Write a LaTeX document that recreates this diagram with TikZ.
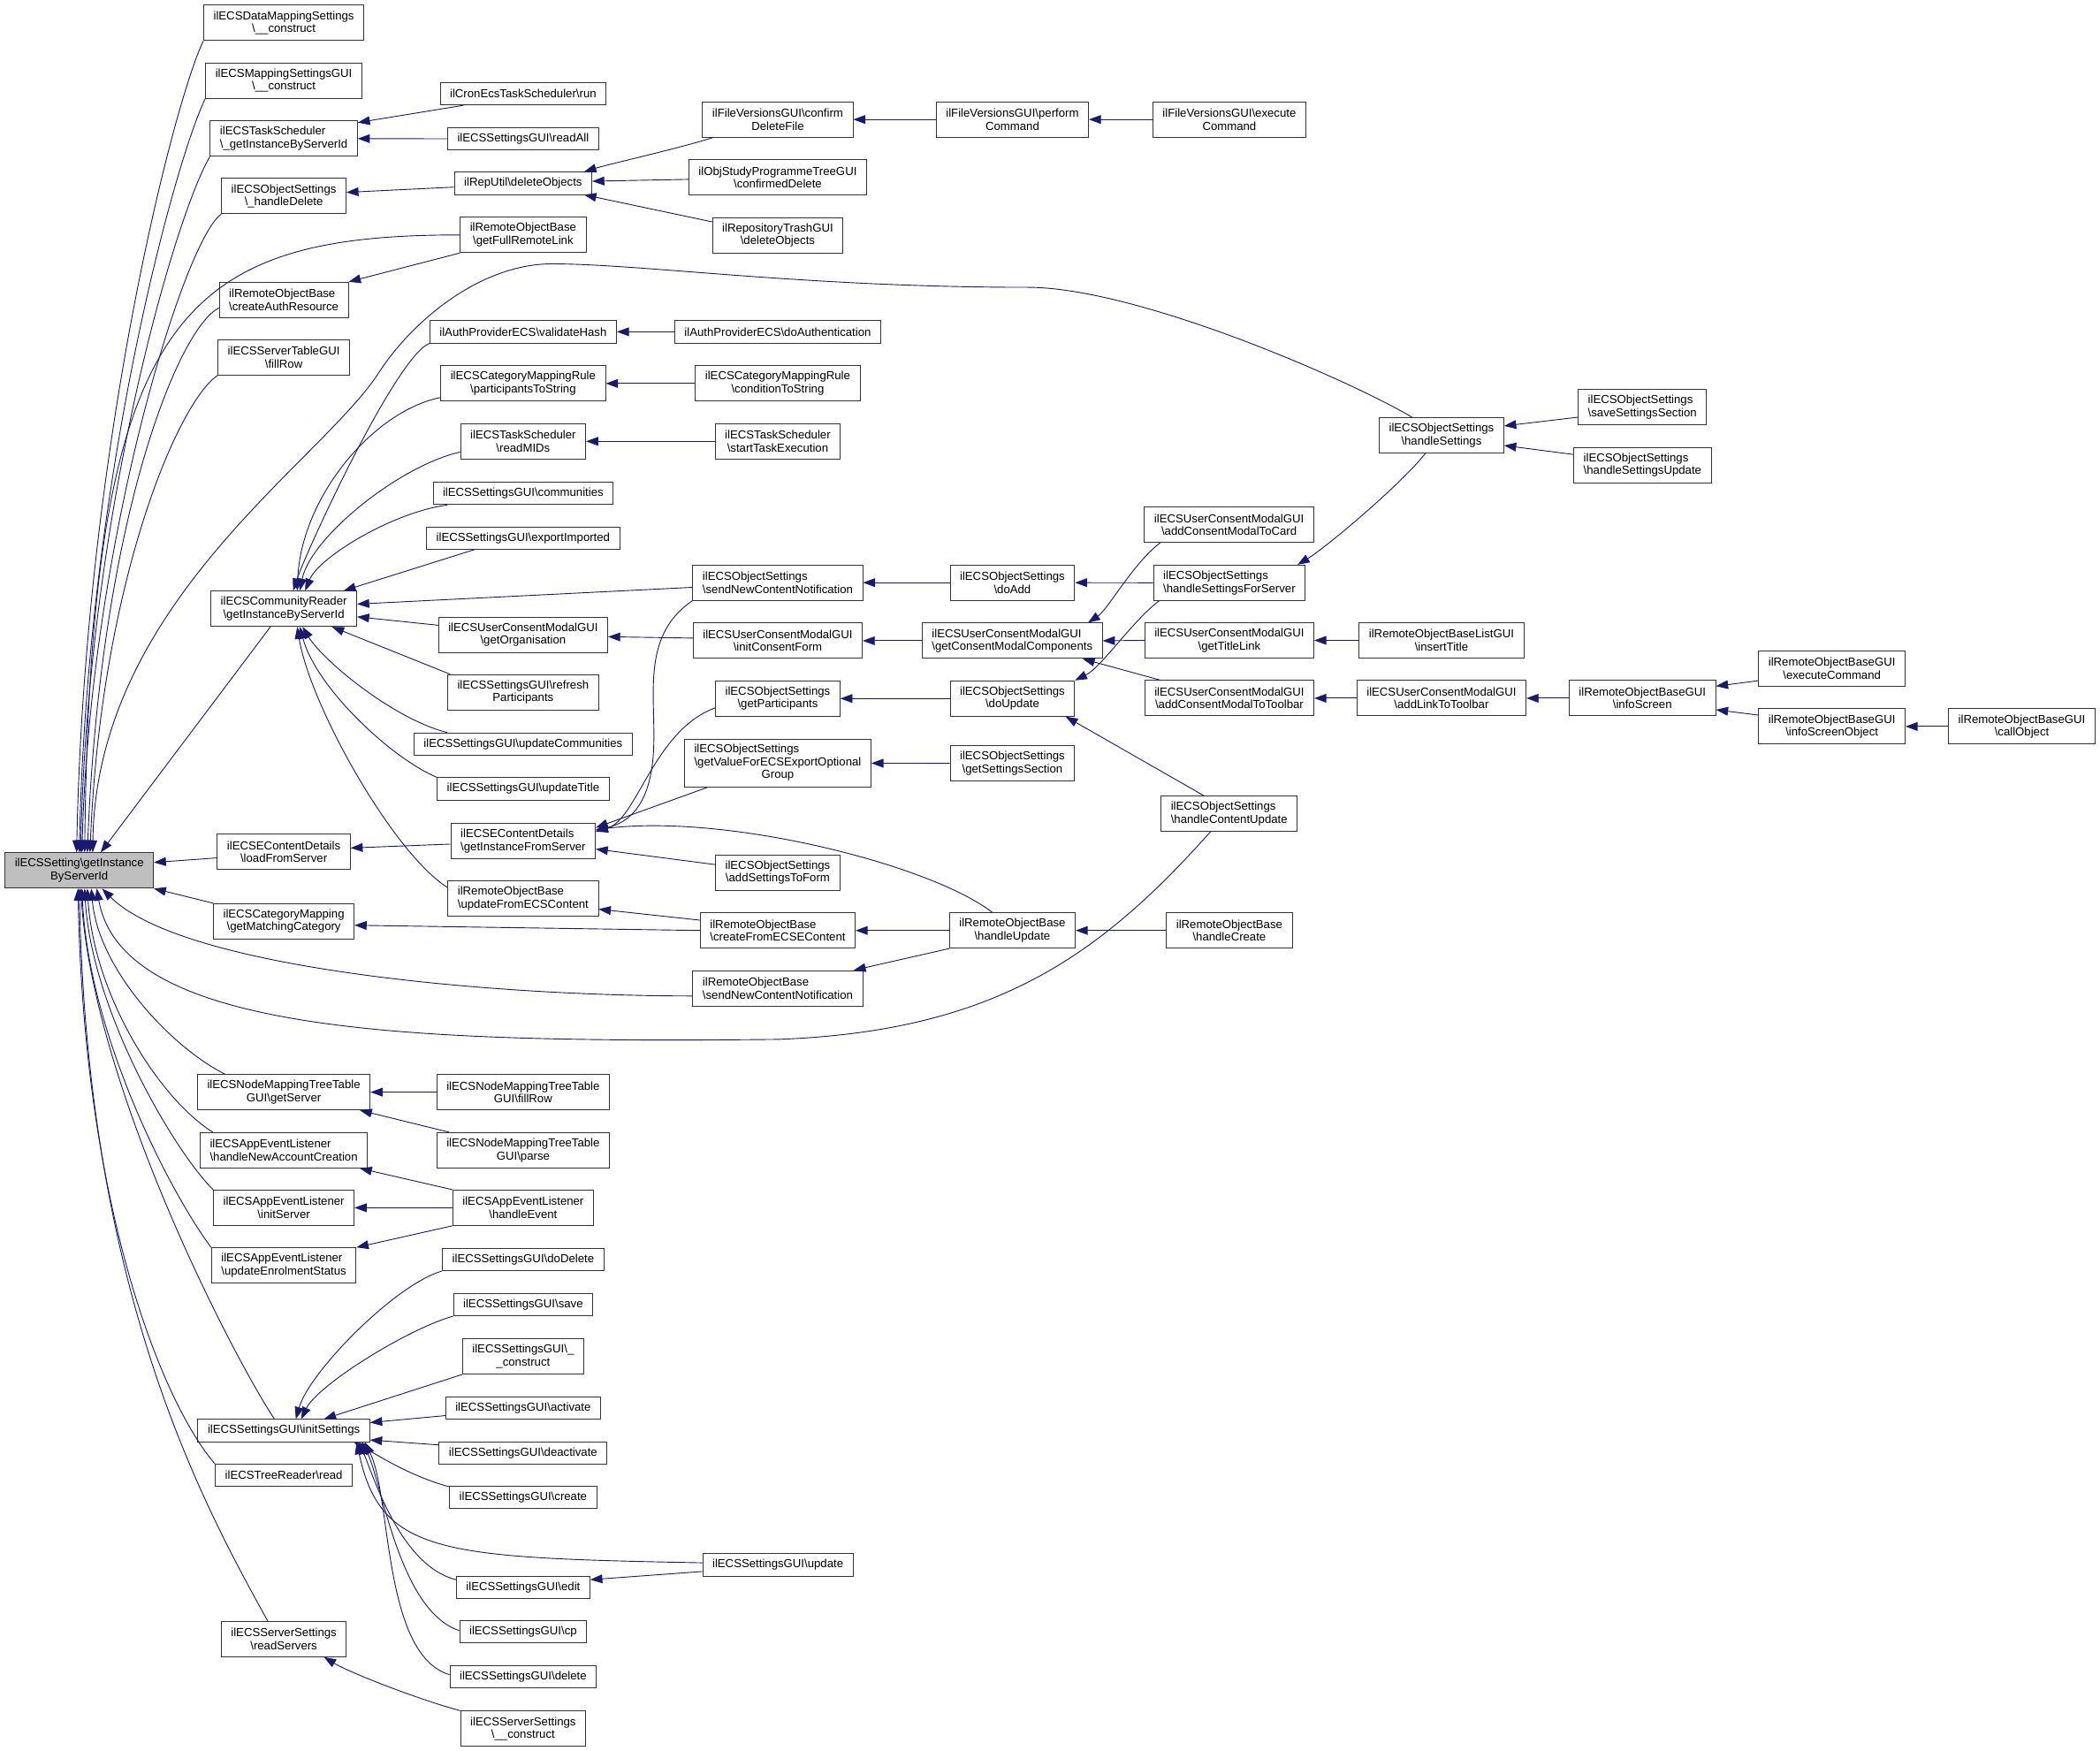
\documentclass[tikz,border=0pt]{standalone}
\usepackage{fontspec}
\setmainfont{Liberation Sans}
\usetikzlibrary{arrows.meta}
\definecolor{edgeblue}{RGB}{25,25,112}
\definecolor{rootgray}{RGB}{191,191,191}
\newcommand{\bsl}{\textbackslash}
\tikzset{
  fnode/.style={draw=black!80, line width=0.6pt, fill=white, inner xsep=7.3pt, inner ysep=3.5pt,
    minimum height=16.7pt, font=\fontsize{8.7}{9.6}\selectfont, align=center},
  fnode2/.style={fnode, minimum height=26.4pt},
  calledge/.style={draw=edgeblue, line width=0.6pt, {Triangle[length=9pt,width=6.5pt]}-},
}
\begin{document}
\begin{tikzpicture}[x=1pt, y=-1pt]

% callers to the right, arrow heads at the called function
  \fill[white] (0,0) rectangle (1568,1307.3);
  \useasboundingbox (0,0) rectangle (1568,1307.3);

  \node[fnode2, fill=rootgray] (root) at (59.2,649.9) {ilECSSetting\bsl getInstance\\ByServerId};

  % second column
  \node[fnode2] (dm) at (211.9,17.1) {ilECSDataMappingSettings\\\bsl\_\_construct};
  \node[fnode2] (msg) at (211.9,60.1) {ilECSMappingSettingsGUI\\\bsl\_\_construct};
  \node[fnode2, align=left] (tsg) at (211.9,103.5) {ilECSTaskScheduler\\\bsl\_getInstanceByServerId};
  \node[fnode2] (hd) at (211.9,146.4) {ilECSObjectSettings\\\bsl\_handleDelete};
  \node[fnode2, align=left] (car) at (211.9,223.9) {ilRemoteObjectBase\\\bsl createAuthResource};
  \node[fnode2] (stg) at (211.9,266.8) {ilECSServerTableGUI\\\bsl fillRow};
  \node[fnode2] (cr) at (211.9,454.5) {ilECSCommunityReader\\\bsl getInstanceByServerId};
  \node[fnode2] (lfs) at (211.9,636) {ilECSEContentDetails\\\bsl loadFromServer};
  \node[fnode2] (gmc) at (211.9,687.8) {ilECSCategoryMapping\\\bsl getMatchingCategory};
  \node[fnode2] (nmt) at (211.9,815.4) {ilECSNodeMappingTreeTable\\GUI\bsl getServer};
  \node[fnode2, align=left] (hnac) at (211.9,858.8) {ilECSAppEventListener\\\bsl handleNewAccountCreation};
  \node[fnode2] (isv) at (211.9,901.7) {ilECSAppEventListener\\\bsl initServer};
  \node[fnode2, align=left] (ues) at (211.9,944.8) {ilECSAppEventListener\\\bsl updateEnrolmentStatus};
  \node[fnode] (ins) at (211.9,1068.1) {ilECSSettingsGUI\bsl initSettings};
  \node[fnode] (tr) at (211.9,1101.5) {ilECSTreeReader\bsl read};
  \node[fnode2] (rs) at (211.9,1223.7) {ilECSServerSettings\\\bsl readServers};

  % third column
  \node[fnode] (run) at (390.6,70) {ilCronEcsTaskScheduler\bsl run};
  \node[fnode] (ra) at (390.6,103.6) {ilECSSettingsGUI\bsl readAll};
  \node[fnode] (dobj) at (390.6,136.8) {ilRepUtil\bsl deleteObjects};
  \node[fnode2] (gfrl) at (390.6,175.4) {ilRemoteObjectBase\\\bsl getFullRemoteLink};
  \node[fnode] (vh) at (390.6,247.7) {ilAuthProviderECS\bsl validateHash};
  \node[fnode2] (pts) at (390.6,286.3) {ilECSCategoryMappingRule\\\bsl participantsToString};
  \node[fnode2] (rm) at (390.6,329.5) {ilECSTaskScheduler\\\bsl readMIDs};
  \node[fnode] (comm) at (390.6,368.4) {ilECSSettingsGUI\bsl communities};
  \node[fnode] (ei) at (390.6,401.7) {ilECSSettingsGUI\bsl exportImported};
  \node[fnode2] (go) at (390.6,473.8) {ilECSUserConsentModalGUI\\\bsl getOrganisation};
  \node[fnode2] (rp) at (390.6,516.8) {ilECSSettingsGUI\bsl refresh\\Participants};
  \node[fnode] (uc) at (390.6,555.5) {ilECSSettingsGUI\bsl updateCommunities};
  \node[fnode] (ut) at (390.6,589) {ilECSSettingsGUI\bsl updateTitle};
  \node[fnode2, align=left] (gifs) at (390.6,627.9) {ilECSEContentDetails\\\bsl getInstanceFromServer};
  \node[fnode2, align=left] (ufe) at (390.6,671) {ilRemoteObjectBase\\\bsl updateFromECSContent};
  \node[fnode2] (nfr) at (390.6,815.4) {ilECSNodeMappingTreeTable\\GUI\bsl fillRow};
  \node[fnode2] (np) at (390.6,858.8) {ilECSNodeMappingTreeTable\\GUI\bsl parse};
  \node[fnode2] (he) at (390.6,901.7) {ilECSAppEventListener\\\bsl handleEvent};
  \node[fnode] (dd) at (390.6,940.3) {ilECSSettingsGUI\bsl doDelete};
  \node[fnode] (sv) at (390.6,974) {ilECSSettingsGUI\bsl save};
  \node[fnode2] (sgc) at (390.6,1012.7) {ilECSSettingsGUI\bsl\_\\\_construct};
  \node[fnode] (act) at (390.6,1051.2) {ilECSSettingsGUI\bsl activate};
  \node[fnode] (deact) at (390.6,1084.8) {ilECSSettingsGUI\bsl deactivate};
  \node[fnode] (crt) at (390.6,1118) {ilECSSettingsGUI\bsl create};
  \node[fnode] (ed) at (390.6,1185) {ilECSSettingsGUI\bsl edit};
  \node[fnode] (cpy) at (390.6,1218.4) {ilECSSettingsGUI\bsl cp};
  \node[fnode] (del) at (390.6,1251.7) {ilECSSettingsGUI\bsl delete};
  \node[fnode2] (ssc) at (390.6,1290.7) {ilECSServerSettings\\\bsl\_\_construct};

  % fourth column
  \node[fnode2] (cdf) at (580.7,89.2) {ilFileVersionsGUI\bsl confirm\\DeleteFile};
  \node[fnode2] (cfd) at (580.7,132.5) {ilObjStudyProgrammeTreeGUI\\\bsl confirmedDelete};
  \node[fnode2] (rtd) at (580.7,175.6) {ilRepositoryTrashGUI\\\bsl deleteObjects};
  \node[fnode] (da) at (580.7,247.7) {ilAuthProviderECS\bsl doAuthentication};
  \node[fnode2] (cts) at (580.7,286.3) {ilECSCategoryMappingRule\\\bsl conditionToString};
  \node[fnode2] (ste) at (580.7,329.5) {ilECSTaskScheduler\\\bsl startTaskExecution};
  \node[fnode2, align=left] (osnc) at (580.7,435) {ilECSObjectSettings\\\bsl sendNewContentNotification};
  \node[fnode2] (icf) at (580.7,478.4) {ilECSUserConsentModalGUI\\\bsl initConsentForm};
  \node[fnode2] (gp) at (580.7,521.5) {ilECSObjectSettings\\\bsl getParticipants};
  \node[fnode] (gvfe) at (580.7,569.8) {\begin{tabular}{@{}l@{}}ilECSObjectSettings\\\bsl getValueForECSExportOptional\\\multicolumn{1}{@{}c@{}}{Group}\end{tabular}};
  \node[fnode2] (asf) at (580.7,651.5) {ilECSObjectSettings\\\bsl addSettingsToForm};
  \node[fnode2, align=left] (cfe) at (580.7,694.7) {ilRemoteObjectBase\\\bsl createFromECSEContent};
  \node[fnode2, align=left] (rsnc) at (580.7,737.9) {ilRemoteObjectBase\\\bsl sendNewContentNotification};
  \node[fnode] (upd) at (580.8,1168.3) {ilECSSettingsGUI\bsl update};

  % fifth and sixth column
  \node[fnode2] (pc) at (755.9,89.2) {ilFileVersionsGUI\bsl perform\\Command};
  \node[fnode2] (doadd) at (755.9,435) {ilECSObjectSettings\\\bsl doAdd};
  \node[fnode2, align=left] (gcmc) at (755.8,478.4) {ilECSUserConsentModalGUI\\\bsl getConsentModalComponents};
  \node[fnode2] (du) at (755.9,521.5) {ilECSObjectSettings\\\bsl doUpdate};
  \node[fnode2] (gss) at (755.9,569.9) {ilECSObjectSettings\\\bsl getSettingsSection};
  \node[fnode2] (hu) at (755.9,694.7) {ilRemoteObjectBase\\\bsl handleUpdate};
  \node[fnode2] (ec) at (917.9,89.2) {ilFileVersionsGUI\bsl execute\\Command};
  \node[fnode2] (acmc) at (917.7,391.8) {ilECSUserConsentModalGUI\\\bsl addConsentModalToCard};
  \node[fnode2, align=left] (hsfs) at (917.9,435.1) {ilECSObjectSettings\\\bsl handleSettingsForServer};
  \node[fnode2] (gtl) at (917.9,478.1) {ilECSUserConsentModalGUI\\\bsl getTitleLink};
  \node[fnode2] (acmt) at (917.9,521.3) {ilECSUserConsentModalGUI\\\bsl addConsentModalToToolbar};
  \node[fnode2, align=left] (hcu) at (917.8,607.5) {ilECSObjectSettings\\\bsl handleContentUpdate};
  \node[fnode2] (hc) at (917.9,694.7) {ilRemoteObjectBase\\\bsl handleCreate};

  % right part
  \node[fnode2] (hs) at (1076.3,325) {ilECSObjectSettings\\\bsl handleSettings};
  \node[fnode2] (it) at (1076.3,478.1) {ilRemoteObjectBaseListGUI\\\bsl insertTitle};
  \node[fnode2] (altt) at (1076.3,521.3) {ilECSUserConsentModalGUI\\\bsl addLinkToToolbar};
  \node[fnode2, align=left] (sss) at (1226.3,303.8) {ilECSObjectSettings\\\bsl saveSettingsSection};
  \node[fnode2, align=left] (hsu) at (1226.4,347.1) {ilECSObjectSettings\\\bsl handleSettingsUpdate};
  \node[fnode2] (isc) at (1226.3,521.3) {ilRemoteObjectBaseGUI\\\bsl infoScreen};
  \node[fnode2] (rec) at (1367.8,499.2) {ilRemoteObjectBaseGUI\\\bsl executeCommand};
  \node[fnode2] (iso) at (1367.8,542.4) {ilRemoteObjectBaseGUI\\\bsl infoScreenObject};
  \node[fnode2] (co) at (1509.6,542.4) {ilRemoteObjectBaseGUI\\\bsl callObject};

  % into the root from above
  \draw[calledge] ([xshift=-2pt]root.north) .. controls +(6,-300) and +(-22,45) .. (dm.south west);
  \draw[calledge] (root.north) .. controls +(6,-280) and +(-22,45) .. (msg.south west);
  \draw[calledge] ([xshift=1pt]root.north) .. controls +(6,-260) and +(-24,40) .. (tsg.south west);
  \draw[calledge] ([xshift=2pt]root.north) .. controls +(6,-230) and +(-28,20) .. (hd.south west);
  \draw[calledge] ([xshift=4pt]root.north) .. controls +(5,-400) and +(-210,0) .. (gfrl.west);
  \draw[calledge] ([xshift=6pt]root.north) .. controls +(10,-250) and +(-30,15) .. ([yshift=-6pt]car.west);
  \draw[calledge] ([xshift=8pt]root.north) .. controls +(8,-200) and +(-30,20) .. (stg.south west);
  \draw[calledge] ([xshift=10pt]root.north) .. controls (72,450) and (240,345) .. (283,278)
    .. controls (309,238) and (360,197) .. (412,197)
    .. controls (480,197) and (600,214.5) .. (767,214.5)
    .. controls (850,214.5) and (1010,285) .. ([xshift=-22pt]hs.north);
  \draw[calledge] ([xshift=16pt]root.north) -- ([xshift=-10pt]cr.south);

  % into the root from the right and below
  \draw[calledge] ([yshift=6pt]root.east) -- ([yshift=-4.5pt]lfs.west);
  \draw[calledge] (root.south east) -- (gmc.north west);
  \draw[calledge] ([xshift=17pt]root.south) .. controls +(60,60) and +(-150,0) .. ([yshift=-5.7pt]rsnc.west);
  \draw[calledge] ([xshift=13pt]root.south) .. controls +(19,107) and +(-281,3) .. (581,776)
    .. controls +(160,-6) and +(-83.8,94.1) .. ([xshift=-14pt]hcu.south);
  \draw[calledge] ([xshift=9pt]root.south) .. controls +(5,60) and +(-40,-20) .. ([xshift=-44pt]nmt.north);
  \draw[calledge] ([xshift=6pt]root.south) .. controls +(5,80) and +(-40,-25) .. ([xshift=-53pt]hnac.north);
  \draw[calledge] ([xshift=4pt]root.south) .. controls +(5,90) and +(-30,-30) .. (isv.north west);
  \draw[calledge] ([xshift=2pt]root.south) .. controls +(5,110) and +(-30,-40) .. (ues.north west);
  \draw[calledge] ([xshift=1pt]root.south) .. controls +(10,150) and +(-30,-45) .. ([xshift=-7pt]ins.north);
  \draw[calledge] ([xshift=-1pt]root.south) .. controls +(5,250) and +(-35,-40) .. (tr.north west);
  \draw[calledge] (root.south) .. controls +(6,300) and +(-50,-90) .. ([xshift=-12pt]rs.north);

  % upper calls
  \draw[calledge] ([yshift=-1.5pt]tsg.north east) -- ([xshift=17.7pt]run.south west);
  \draw[calledge] (tsg.east) -- (ra.west);
  \draw[calledge] ([yshift=2.8pt]hd.east) -- ([yshift=-2.9pt]dobj.west);
  \draw[calledge] ([xshift=-6pt]dobj.north east) .. controls +(20,-6) and +(-25,8) .. ([xshift=8pt]cdf.south west);
  \draw[calledge] ([yshift=1.5pt]dobj.east) -- ([yshift=-1.4pt]cfd.west);
  \draw[calledge] ([xshift=-6pt]dobj.south east) -- ([yshift=10pt]rtd.west);
  \draw[calledge] (cdf.east) -- (pc.west);
  \draw[calledge] (pc.east) -- (ec.west);
  \draw[calledge] (car.north east) -- (gfrl.south west);

  % community reader
  \draw[calledge] ([xshift=7pt]cr.north) .. controls +(10,-30) and +(-25,10) .. (vh.south west);
  \draw[calledge] (vh.east) -- (da.west);
  \draw[calledge] ([xshift=10pt]cr.north) .. controls +(3,-70) and +(-50,10) .. ([yshift=3pt]pts.south west);
  \draw[calledge] (pts.east) -- (cts.west);
  \draw[calledge] ([xshift=12pt]cr.north) .. controls +(8,-40) and +(-45,10) .. ([yshift=-8pt]rm.west);
  \draw[calledge] (rm.east) -- (ste.west);
  \draw[calledge] ([xshift=16pt]cr.north) .. controls +(10,-25) and +(-40,5) .. ([xshift=11pt]comm.south west);
  \draw[calledge] ([xshift=-10pt]cr.north east) -- ([xshift=36pt]ei.south west);
  \draw[calledge] ([yshift=3.5pt]cr.east) -- ([yshift=-3.5pt]osnc.west);
  \draw[calledge] ([yshift=-6pt]cr.east) -- ([yshift=7pt]go.west);
  \draw[calledge] ([yshift=-1.6pt]go.east) -- ([yshift=2pt]icf.west);
  \draw[calledge] ([xshift=36pt]cr.south) -- ([xshift=2pt]rp.north west);
  \draw[calledge] ([xshift=14pt]cr.south) .. controls +(15,25) and +(-40,-10) .. ([xshift=25pt]uc.north west);
  \draw[calledge] ([xshift=12pt]cr.south) .. controls +(12,45) and +(-35,-15) .. (ut.north west);
  \draw[calledge] ([xshift=10pt]cr.south) .. controls +(10,60) and +(-40,-25) .. ([yshift=8.4pt]ufe.west);

  % content details
  \draw[calledge] ([yshift=2.9pt]lfs.east) -- ([yshift=-2.3pt]gifs.west);
  \draw[calledge] ([yshift=-7.8pt]ufe.east) -- ([yshift=7.7pt]cfe.west);
  \draw[calledge] ([yshift=-3pt]gmc.east) -- (cfe.west);
  \draw[calledge] ([yshift=8pt]gifs.east) .. controls +(25.6,-6) and (486,600) .. (488,560)
    .. controls (490,520) and (478,475) .. (osnc.south west);
  \draw[calledge] ([yshift=7pt]gifs.east) .. controls +(31,-9) and +(-46,17) .. ([yshift=-7pt]gp.west);
  \draw[calledge] ([yshift=10pt]gifs.east) -- ([xshift=17pt]gvfe.south west);
  \draw[calledge] ([yshift=8.5pt]gifs.east) .. controls +(100,-12) and +(-45,-35) .. ([xshift=-15pt]hu.north);
  \draw[calledge] ([yshift=-6pt]gifs.east) -- ([yshift=6pt]asf.west);
  \draw[calledge] (cfe.east) -- (hu.west);
  \draw[calledge] ([xshift=-7pt]rsnc.north east) -- (hu.south west);
  \draw[calledge] (hu.east) -- (hc.west);

  % object settings and consent modal
  \draw[calledge] (osnc.east) -- (doadd.west);
  \draw[calledge] (doadd.east) -- (hsfs.west);
  \draw[calledge] ([xshift=-6pt]hsfs.north east) .. controls +(20,-12) and +(-20,25) .. ([xshift=-12pt]hs.south);
  \draw[calledge] ([yshift=7pt]hs.east) -- ([yshift=-7.7pt]sss.west);
  \draw[calledge] ([yshift=-7.6pt]hs.east) -- ([yshift=7.8pt]hsu.west);
  \draw[calledge] ([xshift=-11pt]gcmc.north east) .. controls +(15,-10) and +(-20,15) .. ([xshift=12pt]acmc.south west);
  \draw[calledge] (du.north east) .. controls +(20,-10) and +(-20,15) .. ([xshift=4.5pt]hsfs.south west);
  \draw[calledge] (gcmc.east) -- (gtl.west);
  \draw[calledge] (gtl.east) -- (it.west);
  \draw[calledge] (icf.east) -- (gcmc.west);
  \draw[calledge] ([xshift=-15pt]gcmc.south east) -- ([xshift=12pt]acmt.north west);
  \draw[calledge] (acmt.east) -- (altt.west);
  \draw[calledge] (altt.east) -- (isc.west);
  \draw[calledge] ([yshift=9pt]isc.east) -- ([yshift=-9pt]rec.west);
  \draw[calledge] ([yshift=-8.6pt]isc.east) -- ([yshift=8.5pt]iso.west);
  \draw[calledge] (iso.east) -- (co.west);
  \draw[calledge] (gp.east) -- (du.west);
  \draw[calledge] ([xshift=-7pt]du.south east) -- ([xshift=-19pt]hcu.north);
  \draw[calledge] (gvfe.east) -- (gss.west);

  % lower calls
  \draw[calledge] (nmt.east) -- (nfr.west);
  \draw[calledge] ([xshift=-8pt]nmt.south east) -- ([xshift=9.5pt]np.north west);
  \draw[calledge] ([xshift=-6pt]hnac.south east) -- (he.north west);
  \draw[calledge] (isv.east) -- (he.west);
  \draw[calledge] (ues.north east) -- (he.south west);

  % settings gui
  \draw[calledge] ([xshift=9pt]ins.north) .. controls +(10,-35) and +(-35,10) .. (dd.south west);
  \draw[calledge] ([xshift=13pt]ins.north) .. controls +(12,-25) and +(-35,10) .. (sv.south west);
  \draw[calledge] ([xshift=30pt]ins.north) -- (sgc.south west);
  \draw[calledge] ([yshift=6pt]ins.east) -- ([yshift=-5.7pt]act.west);
  \draw[calledge] ([yshift=-7pt]ins.east) -- ([yshift=6pt]deact.west);
  \draw[calledge] ([xshift=-12pt]ins.south east) .. controls +(15,8) and +(-30,-8) .. ([yshift=8pt]crt.west);
  \draw[calledge] ([xshift=-10pt]ins.south east) .. controls +(18,84) and +(-194.2,-3.8) .. ([yshift=1.5pt]upd.west);
  \draw[calledge] ([yshift=5.6pt]ed.east) -- ([yshift=-5pt]upd.west);
  \draw[calledge] ([xshift=-8pt]ins.south east) .. controls +(12,30) and +(-40,-10) .. ([yshift=5.6pt]ed.west);
  \draw[calledge] ([xshift=-6pt]ins.south east) .. controls +(15,30) and +(-45,-15) .. ([yshift=1pt]cpy.west);
  \draw[calledge] ([xshift=-4pt]ins.south east) .. controls +(20,40) and +(-50,-15) .. ([yshift=1.4pt]del.west);
  \draw[calledge] ([xshift=30pt]rs.south) .. controls +(20,12) and +(-30,-8) .. (ssc.north west);
\end{tikzpicture}
\end{document}
